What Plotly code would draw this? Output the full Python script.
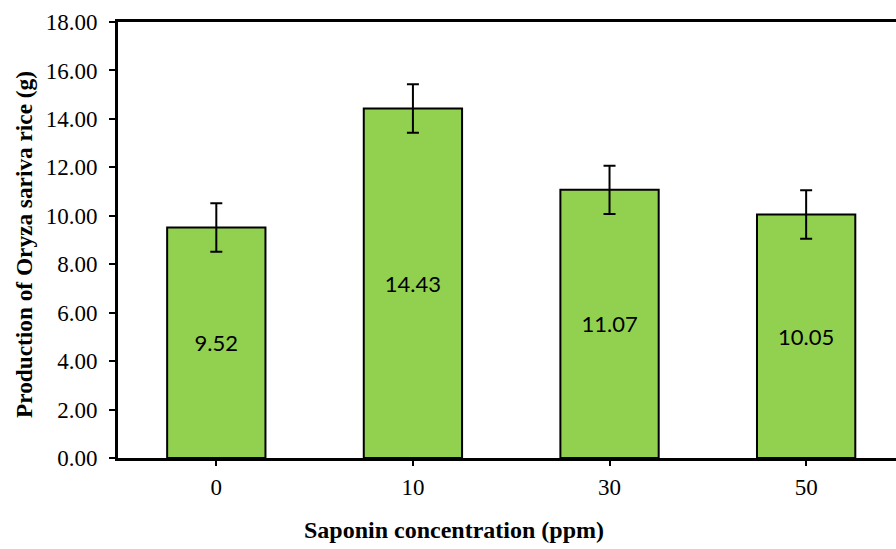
import plotly.graph_objects as go

categories = ["0", "10", "30", "50"]
values = [9.52, 14.43, 11.07, 10.05]
errors = [1.0, 1.0, 1.0, 1.0]
y_ticks = [0, 2, 4, 6, 8, 10, 12, 14, 16, 18]

xpos = list(range(len(categories)))

fig = go.Figure()
fig.add_trace(go.Bar(
    x=xpos, y=values, width=0.5,
    marker=dict(color="#92D050", line=dict(color="black", width=2)),
    error_y=dict(type="data", array=errors, visible=True, color="black", thickness=2, width=6),
    text=[f"{v:.2f}" for v in values],
    textposition="inside", insidetextanchor="middle",
    textfont=dict(family="Lato", size=22, color="black"),
    textangle=0,
))

fig.update_layout(
    width=896, height=549,
    margin=dict(l=118, r=0, t=22, b=91),
    paper_bgcolor="white", plot_bgcolor="white",
    showlegend=False,
    font=dict(family="Liberation Serif", color="black"),
    xaxis=dict(
        range=[-0.5, 3.457],
        tickvals=xpos, ticktext=categories,
        showline=True, linecolor="black", linewidth=3, mirror=True,
        ticks="outside", ticklen=5, tickwidth=2, tickcolor="black",
        ticklabelstandoff=1,
        tickfont=dict(family="Liberation Serif", size=23, color="black"),
        showgrid=False, zeroline=False,
    ),
    yaxis=dict(
        range=[0, 18],
        tickvals=y_ticks, ticktext=[f"{v:.2f}" for v in y_ticks],
        showline=True, linecolor="black", linewidth=3,
        ticks="outside", ticklen=6, tickwidth=2, tickcolor="black",
        ticklabelstandoff=7,
        tickfont=dict(family="Liberation Serif", size=23, color="black"),
        showgrid=False, zeroline=False,
    ),
    annotations=[
        dict(
            text="<b>Saponin concentration (ppm)</b>",
            xref="paper", yref="paper", x=0.432, y=-(530 - 458) / 436,
            xanchor="center", yanchor="middle", showarrow=False,
            font=dict(family="Liberation Serif", size=24, color="black"),
        ),
        dict(
            text="<b>Production of Oryza sariva rice (g)</b>",
            xref="paper", yref="paper", x=(24 - 118) / 778, y=(458 - 245) / 436,
            xanchor="center", yanchor="middle", showarrow=False, textangle=-90,
            font=dict(family="Liberation Serif", size=23.3, color="black"),
        ),
    ],
)

fig.write_html("out.html", config={"displayModeBar": False},
               post_script="document.body.style.margin='0px';document.body.style.padding='0px';")
